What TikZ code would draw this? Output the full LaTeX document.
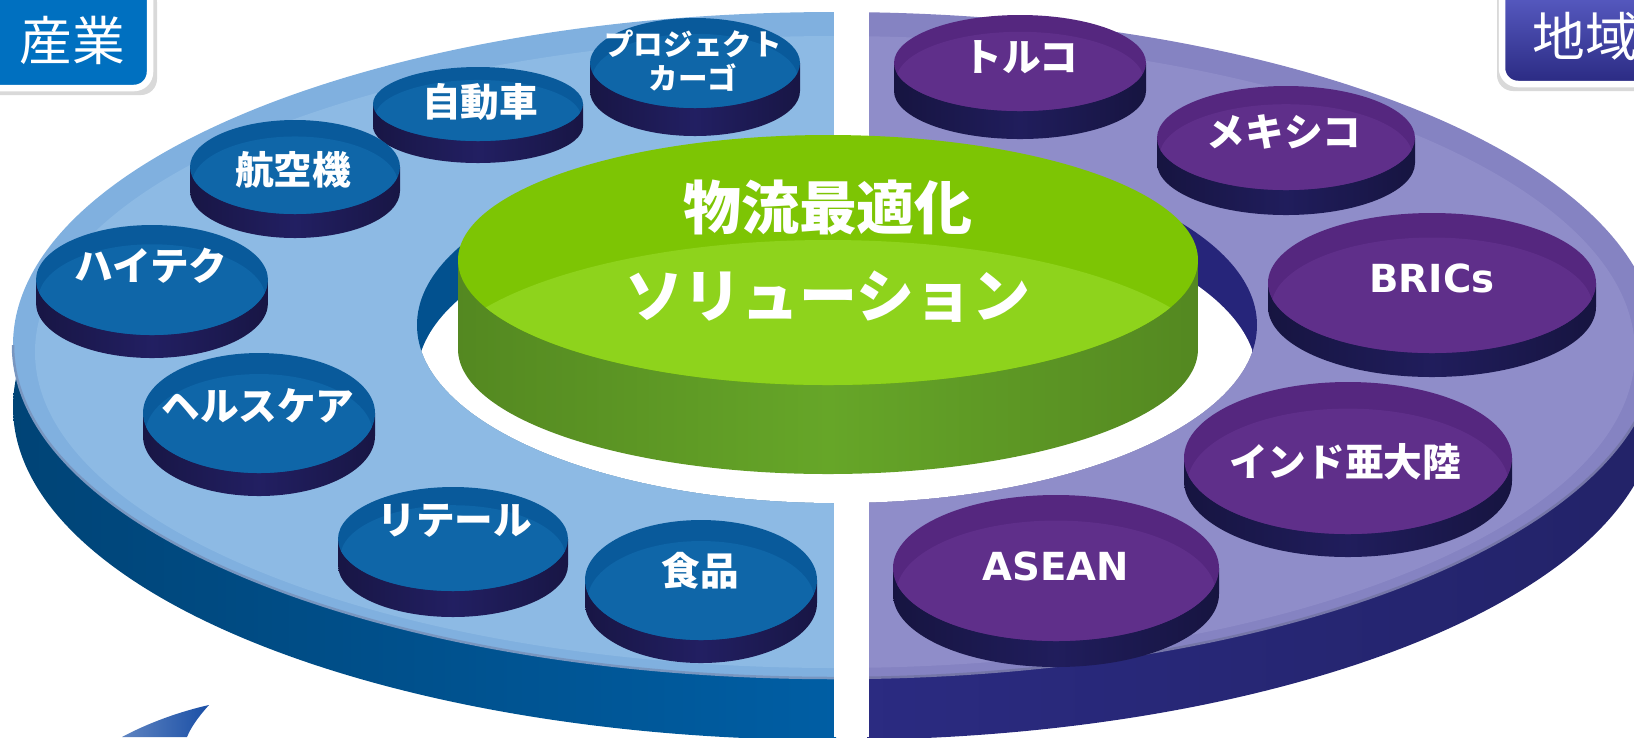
\documentclass[tikz,border=0pt]{standalone}
\usepackage{fontspec}
\setmainfont{Noto Sans CJK JP}
\newfontfamily\latinfont{DejaVu Sans}

\definecolor{ringtopblue}{HTML}{8DBAE4}
\definecolor{ringrimblue}{HTML}{80B0DF}
\definecolor{ringsideblue}{HTML}{005EA4}
\definecolor{ringedgeblue}{HTML}{7896C0}
\definecolor{wallblue}{HTML}{02518F}
\definecolor{ringtoppurp}{HTML}{8F8DC9}
\definecolor{ringrimpurp}{HTML}{8583C2}
\definecolor{ringsidepurp}{HTML}{2B2B82}
\definecolor{ringedgepurp}{HTML}{7576A8}
\definecolor{wallpurp}{HTML}{26257A}
\definecolor{bluepadtop}{HTML}{0F66A8}
\definecolor{bluepadrim}{HTML}{095A9B}
\definecolor{bluepadside}{HTML}{221F62}
\definecolor{purppadtop}{HTML}{5F2F8A}
\definecolor{purppadrim}{HTML}{55277F}
\definecolor{purppadside}{HTML}{201D5C}
\definecolor{greentop}{HTML}{8ED31C}
\definecolor{greenrim}{HTML}{7DC504}
\definecolor{greenside}{HTML}{66A628}
\definecolor{sangyoblue}{HTML}{0070C0}
\definecolor{chiikitop}{HTML}{5E62CB}
\definecolor{chiikibottom}{HTML}{2A2A82}
\definecolor{swooshblue}{HTML}{1A4FA6}

\newcommand{\padshape}[6]{%
	\shade[left color=#1side!70!black, right color=#1side!70!black, middle color=#1side] ({#2-#4},#3) -- ({#2-#4},{#3+#6}) arc[start angle=180, end angle=0, x radius=#4, y radius=#5] -- ({#2+#4},#3) -- cycle;
	\fill[#1rim] (#2,#3) ellipse[x radius=#4, y radius=#5];
	\begin{scope}
		\clip (#2,#3) ellipse[x radius=#4, y radius=#5];
		\fill[#1top] (#2,{#3+0.35*#5}) ellipse[x radius={0.98*#4}, y radius=#5];
	\end{scope}
}

\begin{document}
\begin{tikzpicture}[x=0.1mm, y=-0.1mm]
	\tikzset{padtext/.style={text=white, font=\bfseries\fontsize{11}{13}\selectfont, inner sep=0pt, align=center}}
	\tikzset{latintext/.style={padtext, font=\latinfont\bfseries\fontsize{11}{13}\selectfont}}
	\tikzset{centertext/.style={text=white, font=\bfseries\fontsize{16.5}{19}\selectfont, inner sep=0pt}}
	\tikzset{labeltext/.style={text=white, font=\fontsize{15}{18}\selectfont, inner sep=0pt}}
	\useasboundingbox (0,0) rectangle (1634,737);

	\begin{scope}
		\clip (0,0) rectangle (836,760);
		\shade[left color=ringsideblue!72!black, right color=ringsideblue!72!black, middle color=ringsideblue] (835,407) ellipse[x radius=822, y radius=333];
		\fill[ringrimblue] (835,345) ellipse[x radius=822, y radius=333];
		\fill[ringtopblue] (835,352) ellipse[x radius=800, y radius=316];
		\draw[ringedgeblue, line width=0.25mm] (13,345) arc[start angle=180, end angle=0, x radius=822, y radius=333];
		\fill[wallblue] (837,325) ellipse[x radius=420, y radius=178];
		\begin{scope}
			\clip (837,325) ellipse[x radius=420, y radius=178];
			\fill[white] (837,377) ellipse[x radius=420, y radius=178];
		\end{scope}
	\end{scope}
	\begin{scope}
		\clip (867,0) rectangle (1700,760);
		\shade[left color=ringsidepurp!80!black, right color=ringsidepurp!80!black, middle color=ringsidepurp] (835,407) ellipse[x radius=822, y radius=333];
		\fill[ringrimpurp] (835,345) ellipse[x radius=822, y radius=333];
		\fill[ringtoppurp] (835,352) ellipse[x radius=800, y radius=316];
		\draw[ringedgepurp, line width=0.25mm] (13,345) arc[start angle=180, end angle=0, x radius=822, y radius=333];
		\fill[wallpurp] (837,325) ellipse[x radius=420, y radius=178];
		\begin{scope}
			\clip (837,325) ellipse[x radius=420, y radius=178];
			\fill[white] (837,377) ellipse[x radius=420, y radius=178];
		\end{scope}
	\end{scope}
	\fill[white] (834,0) rectangle (869,737);

	\padshape{bluepad}{695}{63}{105}{45}{28}
	\padshape{bluepad}{478}{104}{105}{37}{22}
	\padshape{bluepad}{295}{167}{105}{47}{24}
	\padshape{bluepad}{152}{280}{116}{55}{23}
	\padshape{bluepad}{259}{413}{116}{60}{23}
	\padshape{bluepad}{453}{539}{115}{52}{26}
	\padshape{bluepad}{701}{580}{116}{60}{23}
	\padshape{purppad}{1020}{63}{126}{48}{28}
	\padshape{purppad}{1286}{138}{129}{52}{25}
	\padshape{purppad}{1432}{283}{164}{70}{24}
	\padshape{purppad}{1348}{458}{164}{76}{23}
	\padshape{purppad}{1056}{568}{163}{73}{26}

	\shade[left color=greenside!82!black, right color=greenside!82!black, middle color=greenside] (458,260) -- (458,349) arc[start angle=180, end angle=0, x radius=370, y radius=125] -- (1198,260) -- cycle;
	\fill[greenrim] (828,260) ellipse[x radius=370, y radius=125];
	\begin{scope}
		\clip (828,260) ellipse[x radius=370, y radius=125];
		\fill[greentop] (828,380) ellipse[x radius=400, y radius=140];
	\end{scope}

	\node[padtext, font=\bfseries\fontsize{8.4}{9.7}\selectfont] (cargo) at (693,61) {プロジェクト\\カーゴ};
	\node[padtext] (jidosha) at (480,102) {自動車};
	\node[padtext] (kouku) at (293,170) {航空機};
	\node[padtext] (hitech) at (151,266) {ハイテク};
	\node[padtext] (health) at (258,406) {ヘルスケア};
	\node[padtext] (retail) at (455,521) {リテール};
	\node[padtext] (food) at (700,571) {食品};
	\node[padtext] (turkey) at (1021,57) {トルコ};
	\node[padtext] (mexico) at (1284,132) {メキシコ};
	\node[latintext] (brics) at (1432,278) {BRICs};
	\node[padtext] (india) at (1345,462) {インド亜大陸};
	\node[latintext] (asean) at (1056,566) {ASEAN};
	\node[centertext] (optimize) at (828,208) {物流最適化};
	\node[centertext] (solution) at (828,297) {ソリューション};

	\fill[black, opacity=0.15, rounded corners=1.6mm] (-16,-14) rectangle (157,95);
	\filldraw[fill=sangyoblue, draw=white, line width=0.65mm, rounded corners=1.6mm] (-20,-20) rectangle (150,88);
	\node[labeltext] (sangyo) at (72,40) {産業};
	\fill[black, opacity=0.15, rounded corners=1.6mm] (1497,-14) rectangle (1660,91);
	\shadedraw[top color=chiikitop, bottom color=chiikibottom, draw=white, line width=0.65mm, rounded corners=1.6mm] (1502,-20) rectangle (1660,84);
	\node[labeltext] (chiiki) at (1585,36) {地域};

	\shade[left color=swooshblue!70, right color=swooshblue] (122,737) .. controls (150,722) and (182,711) .. (209,705) .. controls (199,716) and (191,727) .. (187,737) -- cycle;
\end{tikzpicture}
\end{document}
